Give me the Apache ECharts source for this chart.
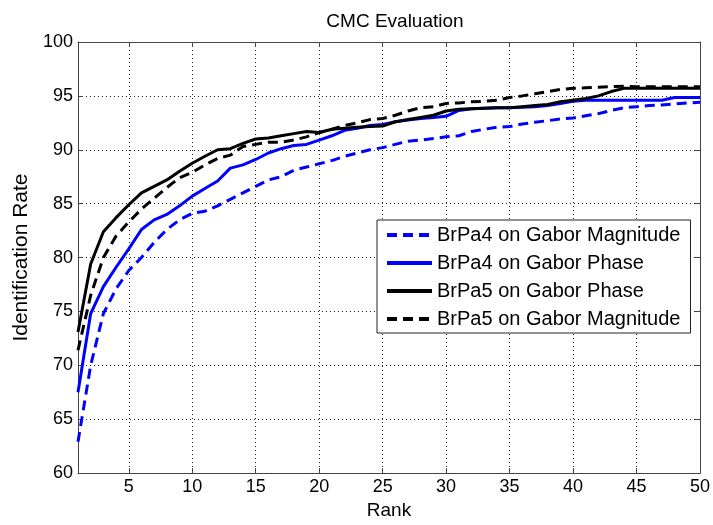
<!DOCTYPE html>
<html>
<head>
<meta charset="utf-8">
<script src="https://cdn.jsdelivr.net/npm/echarts@6/dist/echarts.min.js"></script>
<style>
  html, body { margin: 0; padding: 0; background: #fff; }
  #chart { width: 713px; height: 525px; }
</style>
</head>
<body>
<div id="chart"></div>
<script>
// Rank axis (1..50) and tick positions
const ranks = Array.from({ length: 50 }, (_, i) => i + 1);
const rankTicks = [5, 10, 15, 20, 25, 30, 35, 40, 45, 50];
const rateTicks = [60, 65, 70, 75, 80, 85, 90, 95, 100];

// Identification rate (%) per rank
const brpa4Magnitude = [
  62.9, 70.0, 74.8, 77.1, 78.8, 80.0, 81.4, 82.6, 83.5, 84.1,
  84.3, 84.8, 85.4, 86.0, 86.6, 87.2, 87.5, 88.1, 88.4, 88.7,
  89.0, 89.4, 89.7, 90.0, 90.2, 90.5, 90.8, 90.9, 91.05, 91.2,
  91.3, 91.7, 91.9, 92.1, 92.15, 92.4, 92.55, 92.7, 92.85, 92.95,
  93.15, 93.35, 93.65, 93.9, 94.0, 94.1, 94.15, 94.25, 94.35, 94.4
];
const brpa4Phase = [
  67.5, 74.8, 77.3, 79.1, 80.8, 82.6, 83.5, 84.0, 84.8, 85.7,
  86.4, 87.1, 88.3, 88.6, 89.1, 89.7, 90.1, 90.4, 90.5, 90.9,
  91.3, 91.8, 92.0, 92.25, 92.35, 92.6, 92.75, 92.9, 93.0, 93.1,
  93.65, 93.8, 93.85, 93.9, 93.9, 93.95, 94.0, 94.1, 94.3, 94.5,
  94.6, 94.6, 94.6, 94.6, 94.6, 94.6, 94.6, 94.85, 94.85, 94.85
];
const brpa5Phase = [
  73.1, 79.4, 82.4, 83.7, 84.9, 86.0, 86.6, 87.2, 88.0, 88.75,
  89.4, 90.0, 90.1, 90.6, 91.0, 91.1, 91.3, 91.5, 91.7, 91.6,
  91.9, 92.0, 92.1, 92.15, 92.2, 92.6, 92.8, 93.0, 93.2, 93.6,
  93.75, 93.8, 93.85, 93.9, 93.9, 94.0, 94.1, 94.2, 94.45, 94.6,
  94.75, 95.0, 95.4, 95.7, 95.7, 95.7, 95.7, 95.7, 95.7, 95.7
];
const brpa5Magnitude = [
  71.4, 76.5, 80.0, 82.0, 83.3, 84.5, 85.5, 86.5, 87.4, 87.9,
  88.6, 89.2, 89.5, 90.3, 90.5, 90.7, 90.7, 90.9, 91.2, 91.6,
  91.9, 92.25, 92.5, 92.8, 92.9, 93.2, 93.6, 93.9, 94.0, 94.3,
  94.35, 94.45, 94.5, 94.6, 94.85, 95.0, 95.2, 95.4, 95.6, 95.7,
  95.75, 95.8, 95.85, 95.9, 95.85, 95.85, 95.85, 95.85, 95.85, 95.85
];

const FONT = 'Liberation Sans, Arial, Helvetica, sans-serif';
const pairs = (vals) => ranks.map((r, i) => [r, vals[i]]);

const gridLine = { show: true, lineStyle: { color: '#222', width: 1, type: [1, 3] } };
const boxLine = { show: true, onZero: false, lineStyle: { color: '#444', width: 1 } };
const innerTick = (vals) => ({ show: true, inside: true, length: 5, lineStyle: { color: '#444' }, customValues: vals });

function lineSeries(name, vals, color, dashed) {
  return {
    name, type: 'line', data: pairs(vals), symbol: 'none', silent: true,
    lineStyle: { color, width: 3, type: dashed ? [10, 6] : 'solid' },
    itemStyle: { color },
    emphasis: { disabled: true }
  };
}

const chart = echarts.init(document.getElementById('chart'), null, { renderer: 'canvas' });
chart.setOption({
  animation: false,
  backgroundColor: '#fff',
  title: {
    text: 'CMC Evaluation', left: 390, top: 7, textAlign: 'center',
    textStyle: { fontFamily: FONT, fontSize: 19, fontWeight: 'normal', color: '#000' }
  },
  grid: { left: 78, right: 13, top: 42, bottom: 47, containLabel: false },
  xAxis: [
    {
      type: 'value', min: 1, max: 50, position: 'bottom',
      name: 'Rank', nameLocation: 'middle', nameGap: 26,
      nameTextStyle: { fontFamily: FONT, fontSize: 19, color: '#000' },
      axisLine: boxLine,
      axisTick: innerTick(rankTicks),
      axisLabel: { customValues: rankTicks, fontFamily: FONT, fontSize: 18, color: '#000', margin: 5 },
      splitLine: gridLine
    },
    {
      type: 'value', min: 1, max: 50, position: 'top',
      axisLine: boxLine, axisTick: innerTick(rankTicks),
      axisLabel: { show: false }, splitLine: { show: false }
    }
  ],
  yAxis: [
    {
      type: 'value', min: 60, max: 100, interval: 5, position: 'left',
      name: 'Identification Rate', nameLocation: 'middle', nameGap: 46,
      nameTextStyle: { fontFamily: FONT, fontSize: 21, color: '#000' },
      axisLine: boxLine,
      axisTick: innerTick(rateTicks),
      axisLabel: { fontFamily: FONT, fontSize: 18, color: '#000', margin: 5 },
      splitLine: gridLine
    },
    {
      type: 'value', min: 60, max: 100, interval: 5, position: 'right',
      axisLine: boxLine, axisTick: innerTick(rateTicks),
      axisLabel: { show: false }, splitLine: { show: false }
    }
  ],
  legend: {
    orient: 'vertical', left: 377, top: 220,
    backgroundColor: '#fff', borderColor: '#222', borderWidth: 1,
    padding: [5, 10, 4, 8], itemGap: 8, itemWidth: 45, itemHeight: 20,
    itemStyle: { opacity: 0 },
    lineStyle: { width: 4 },
    textStyle: { fontFamily: FONT, fontSize: 20, color: '#000', lineHeight: 20 },
    selectedMode: false,
    data: ['BrPa4 on Gabor Magnitude', 'BrPa4 on Gabor Phase', 'BrPa5 on Gabor Phase', 'BrPa5 on Gabor Magnitude']
  },
  series: [
    lineSeries('BrPa4 on Gabor Magnitude', brpa4Magnitude, '#0000ff', true),
    lineSeries('BrPa4 on Gabor Phase', brpa4Phase, '#0000ff', false),
    lineSeries('BrPa5 on Gabor Phase', brpa5Phase, '#000000', false),
    lineSeries('BrPa5 on Gabor Magnitude', brpa5Magnitude, '#000000', true)
  ]
});
</script>
</body>
</html>
